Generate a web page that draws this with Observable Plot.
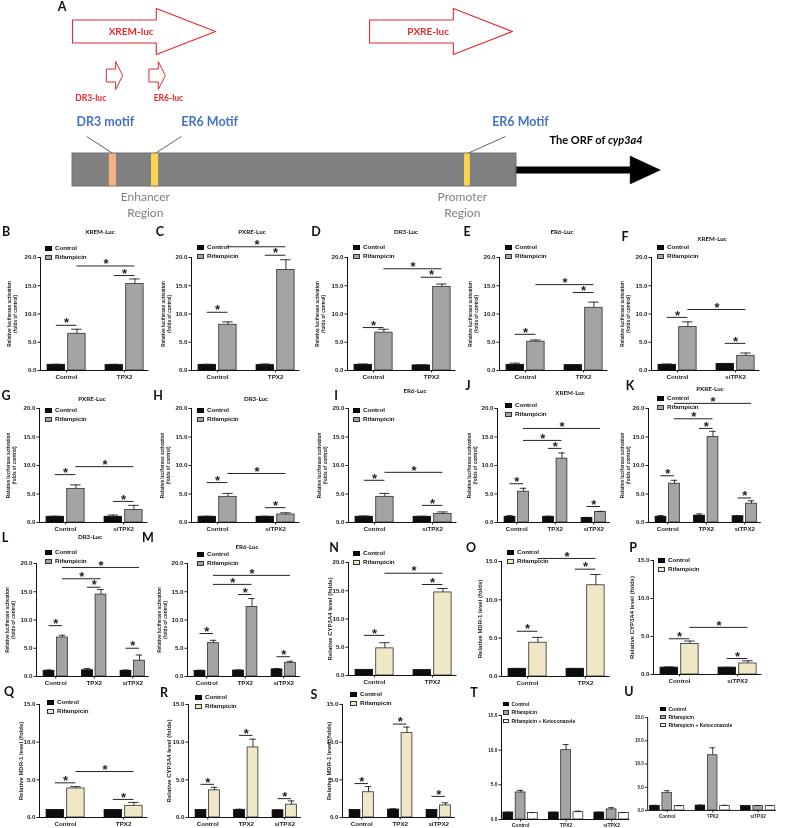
<!DOCTYPE html>
<html>
<head>
<meta charset="utf-8">
<script src="https://cdn.jsdelivr.net/npm/d3@7"></script>
<script src="https://cdn.jsdelivr.net/npm/@observablehq/plot@0.6"></script>
<style>
html,body{margin:0;padding:0;background:#fff;}
#fig{position:relative;width:789px;height:828px;overflow:hidden;background:#fff;}
.abs{position:absolute;white-space:nowrap;line-height:1;}
.letter{font-family:Lato,"Open Sans",sans-serif;font-weight:700;font-size:12.5px;color:#111;transform:translate(-50%,-50%);}
.ptitle{font-family:Lato,"Open Sans",sans-serif;font-weight:700;font-size:6.2px;color:#111;transform:translate(-50%,-50%);}
.legend{font-family:"Liberation Sans",Arial,sans-serif;font-weight:700;font-size:6.2px;color:#111;}
.legend .item{display:flex;align-items:center;}
.legend .sw{display:inline-block;width:7px;height:5px;margin-right:3px;box-sizing:border-box;border:0.8px solid #333;}
.legend.small{font-size:5px;}
.legend.small .sw{width:6px;height:4.5px;margin-right:2.5px;}
.panel{position:absolute;will-change:transform;}
.panel svg{overflow:visible;}
</style>
</head>
<body>
<div id="fig"></div>
<script>
// ---------------- categories ----------------
const seriesLuc = ["Control", "Rifampicin"];
const seriesKeto = ["Control", "Rifampicin", "Rifampicin + Ketoconazole"];
const groupsTPX2 = ["Control", "TPX2"];
const groupsSi = ["Control", "siTPX2"];
const groupsAll = ["Control", "TPX2", "siTPX2"];
const yTicks20 = [0, 5, 10, 15, 20];
const yTicks15 = [0, 5, 10, 15];
const titleLuc = "Relative luciferase activation\n(folds of control)";
const titleCYP = "Relative CYP3A4 level (folds)";
const titleMDR = "Relative MDR-1 level (folds)";

// ---------------- values: mean[group][series], err = top of error bar ----------------
const meanB=[[1.00,6.50],[0.95,15.30]], errB=[[1.10,7.30],[1.10,16.20]];
const meanC=[[1.00,8.10],[0.95,17.80]], errC=[[1.10,8.60],[1.15,19.60]];
const meanD=[[1.00,6.70],[0.90,14.80]], errD=[[1.15,7.30],[1.00,15.30]];
const meanE=[[1.00,5.10],[0.95,11.10]], errE=[[1.30,5.40],[1.00,12.10]];
const meanF=[[1.00,7.70],[1.15,2.60]], errF=[[1.15,8.60],[1.25,3.10]];
const meanG=[[1.00,5.90],[1.00,2.20]], errG=[[1.10,6.60],[1.30,3.00]];
const meanH=[[1.00,4.50],[1.00,1.40]], errH=[[1.10,5.10],[1.10,1.70]];
const meanI=[[1.00,4.50],[1.00,1.50]], errI=[[1.15,5.10],[1.10,1.85]];
const meanJ=[[1.00,5.40],[1.00,11.20],[0.80,1.85]], errJ=[[1.20,6.00],[1.10,12.20],[0.90,1.95]];
const meanK=[[1.00,6.80],[1.20,15.00],[1.10,3.30]], errK=[[1.20,7.40],[1.50,16.00],[1.15,3.80]];
const meanL=[[1.00,6.90],[1.10,14.50],[1.00,2.80]], errL=[[1.15,7.30],[1.40,15.40],[1.15,3.80]];
const meanM=[[1.00,5.90],[1.05,12.30],[1.25,2.40]], errM=[[1.10,6.40],[1.15,13.80],[1.40,2.70]];
const meanN=[[1.00,4.80],[0.95,14.70]], errN=[[1.05,5.80],[1.00,15.40]];
const meanO=[[1.00,4.40],[1.00,11.90]], errO=[[1.05,5.10],[1.05,13.30]];
const meanP=[[0.90,4.00],[0.90,1.45]], errP=[[1.00,4.40],[0.95,1.80]];
const meanQ=[[1.00,3.85],[1.00,1.55]], errQ=[[1.05,4.10],[1.05,2.00]];
const meanR=[[1.00,3.60],[1.00,9.30],[0.95,1.70]], errR=[[1.05,4.00],[1.10,10.40],[1.00,2.20]];
const meanS=[[1.00,3.35],[1.05,11.20],[1.00,1.60]], errS=[[1.05,4.10],[1.15,12.00],[1.05,1.95]];
const meanT=[[1.00,3.90,0.95],[1.00,10.00,1.05],[1.00,1.45,0.95]], errT=[[1.05,4.20,1.00],[1.05,10.80,1.20],[1.05,1.70,1.00]];
const meanU=[[1.00,3.80,0.95],[1.05,11.90,1.00],[0.95,1.00,1.00]], errU=[[1.10,4.25,1.00],[1.15,13.50,1.10],[1.00,1.05,1.05]];

// significance brackets: [group1, series1, group2, series2, level]
const sigB=[[0,0,0,1,8.0],[1,0,1,1,16.8],[0,1,1,1,18.5]];
const sigC=[[0,0,0,1,10.3],[1,0,1,1,20.4],[0,1,1,1,21.9]];
const sigD=[[0,0,0,1,7.6],[1,0,1,1,16.5],[0,1,1,1,18.0]];
const sigE=[[0,0,0,1,6.4],[1,0,1,1,13.8],[0,1,1,1,15.2]];
const sigF=[[0,0,0,1,9.4],[1,0,1,1,4.8],[0,1,1,1,10.8]];
const sigG=[[0,0,0,1,8.4],[1,0,1,1,3.7],[0,1,1,1,9.8]];
const sigH=[[0,0,0,1,7.0],[1,0,1,1,2.6],[0,1,1,1,8.6]];
const sigI=[[0,0,0,1,7.4],[1,0,1,1,3.0],[0,1,1,1,8.8]];
const sigJ=[[0,0,0,1,6.8],[1,0,1,1,13.0],[2,0,2,1,2.8],[0,1,1,1,14.4],[0,1,2,1,16.5]];
const sigK=[[0,0,0,1,8.2],[1,0,1,1,16.5],[2,0,2,1,4.3],[0,1,1,1,18.2],[0,1,2,1,20.9]];
const sigL=[[0,0,0,1,9.0],[1,0,1,1,15.8],[2,0,2,1,5.0],[0,1,1,1,17.3],[0,1,2,1,19.3]];
const sigM=[[0,0,0,1,7.6],[1,0,1,1,14.5],[2,0,2,1,3.5],[0,1,1,1,16.3],[0,1,2,1,17.9]];
const sigN=[[0,0,0,1,7.1],[1,0,1,1,16.1],[0,1,1,1,18.1]];
const sigO=[[0,0,0,1,5.9],[1,0,1,1,14.0],[0,1,1,1,15.4]];
const sigP=[[0,0,0,1,4.7],[1,0,1,1,2.1],[0,1,1,1,6.2]];
const sigQ=[[0,0,0,1,4.6],[1,0,1,1,2.4],[0,1,1,1,6.1]];
const sigR=[[0,0,0,1,4.4],[1,0,1,1,10.9],[2,0,2,1,2.5]];
const sigS=[[0,0,0,1,4.5],[1,0,1,1,12.4],[2,0,2,1,2.8]];
const sigT=[], sigU=[];

// ---------------- panel A schematic (positions in promoter units, 0..100 = enhancer/promoter region) ----------------
const geneRegion = [{start: 0, end: 100}];
const reporters = [{name: "XREM-luc", start: 0, end: 32.2}, {name: "PXRE-luc", start: 66.9, end: 99.1}];
const fragments = [{name: "DR3-luc", start: 7.7, end: 11.3, labelAt: 4.1}, {name: "ER6-luc", start: 17.3, end: 20.9, labelAt: 21.6}];
const motifs = [
  {name: "DR3 motif", start: 8.3, end: 9.9, labelAt: 7.4, leaderAt: 3.2, type: "DR3"},
  {name: "ER6 Motif", start: 17.8, end: 19.4, labelAt: 30.9, leaderAt: 24.5, type: "ER6"},
  {name: "ER6 Motif", start: 88.3, end: 89.6, labelAt: 100.9, leaderAt: 97.5, type: "ER6"}
];
const orf = [{start: 100, end: 132.4, labelAt: 120.6, text1: "The ORF of ", text2: "cyp3a4"}];
const regionLabels = [{name: "Enhancer\nRegion", at: 16.4}, {name: "Promoter\nRegion", at: 87.8}];

// ---------------- styles / layout ----------------
const FONT = '"Liberation Sans", Arial, sans-serif';
const fillsGray = ["#0e0e0e", "#a4a4a4"];
const fillsBeige = ["#0e0e0e", "#f0e7c6"];
const fillsKeto = ["#0e0e0e", "#a4a4a4", "#ffffff"];
const KINDS = {
  g2: {domain: [-0.45, 1.42], ppu: 58, barW: 0.30, off: [-0.178, 0.178]},
  g3: {domain: [-0.5, 2.43], ppu: 38.5, barW: 0.28, off: [-0.175, 0.175]},
  s3T: {domain: [-0.42, 2.4], ppu: 45.5, barW: 0.215, off: [-0.27, 0, 0.27]},
  s3U: {domain: [-0.43, 2.4], ppu: 48.5, barW: 0.21, off: [-0.27, 0, 0.27]}
};

const panels = [
  {id:"B", title:"XREM-Luc", groups:groupsTPX2, series:seriesLuc, mean:meanB, err:errB, sig:sigB, yMax:20, yTicks:yTicks20, yTitle:titleLuc, fills:fillsGray,
   L:{kind:"g2", ax:39.5, top:257, h:113, letter:[6,232], title:[100,232], legend:[45,248], tdx:-28}},
  {id:"C", title:"PXRE-Luc", groups:groupsTPX2, series:seriesLuc, mean:meanC, err:errC, sig:sigC, yMax:20, yTicks:yTicks20, yTitle:titleLuc, fills:fillsGray,
   L:{kind:"g2", ax:190.5, top:257, h:113, letter:[160,232], title:[252,232], legend:[197,247], tdx:-25}},
  {id:"D", title:"DR3-Luc", groups:groupsTPX2, series:seriesLuc, mean:meanD, err:errD, sig:sigD, yMax:20, yTicks:yTicks20, yTitle:titleLuc, fills:fillsGray,
   L:{kind:"g2", ax:346.5, top:257, h:113, letter:[316,232], title:[406,232], legend:[353,247], tdx:-27}},
  {id:"E", title:"ER6-Luc", groups:groupsTPX2, series:seriesLuc, mean:meanE, err:errE, sig:sigE, yMax:20, yTicks:yTicks20, yTitle:titleLuc, fills:fillsGray,
   L:{kind:"g2", ax:499, top:257, h:113, letter:[467,232], title:[562,232], legend:[505,247], tdx:-26}},
  {id:"F", title:"XREM-Luc", groups:groupsSi, series:seriesLuc, mean:meanF, err:errF, sig:sigF, yMax:20, yTicks:yTicks20, yTitle:titleLuc, fills:fillsGray,
   L:{kind:"g2", ax:650.5, top:257, h:113, letter:[625,237], title:[712,239], legend:[657,247], tdx:-26}},
  {id:"G", title:"PXRE-Luc", groups:groupsSi, series:seriesLuc, mean:meanG, err:errG, sig:sigG, yMax:20, yTicks:yTicks20, yTitle:titleLuc, fills:fillsGray,
   L:{kind:"g2", ax:39, top:408, h:114, letter:[6,396], title:[92,399], legend:[45,410], tdx:-28}},
  {id:"H", title:"DR3-Luc", groups:groupsSi, series:seriesLuc, mean:meanH, err:errH, sig:sigH, yMax:20, yTicks:yTicks20, yTitle:titleLuc, fills:fillsGray,
   L:{kind:"g2", ax:191, top:408, h:114, letter:[158,396], title:[256,399], legend:[197,410], tdx:-26}},
  {id:"I", title:"ER6-Luc", groups:groupsSi, series:seriesLuc, mean:meanI, err:errI, sig:sigI, yMax:20, yTicks:yTicks20, yTitle:titleLuc, fills:fillsGray,
   L:{kind:"g2", ax:347.5, top:408, h:114, letter:[336,396], title:[415,391], legend:[353,410], tdx:-26}},
  {id:"J", title:"XREM-Luc", groups:groupsAll, series:seriesLuc, mean:meanJ, err:errJ, sig:sigJ, yMax:20, yTicks:yTicks20, yTitle:titleLuc, fills:fillsGray,
   L:{kind:"g3", ax:497, top:408, h:114, letter:[468,386], title:[570,393], legend:[505,405], tdx:-25}},
  {id:"K", title:"PXRE-Luc", groups:groupsAll, series:seriesLuc, mean:meanK, err:errK, sig:sigK, yMax:20, yTicks:yTicks20, yTitle:titleLuc, fills:fillsGray,
   L:{kind:"g3", ax:648, top:408, h:114, letter:[630,386], title:[710,389], legend:[657,398], tdx:-23, lh:9}},
  {id:"L", title:"DR3-Luc", groups:groupsAll, series:seriesLuc, mean:meanL, err:errL, sig:sigL, yMax:20, yTicks:yTicks20, yTitle:titleLuc, fills:fillsGray,
   L:{kind:"g3", ax:36, top:563, h:113, letter:[5,538], title:[90,537], legend:[45,552], tdx:-26}},
  {id:"M", title:"ER6-Luc", groups:groupsAll, series:seriesLuc, mean:meanM, err:errM, sig:sigM, yMax:20, yTicks:yTicks20, yTitle:titleLuc, fills:fillsGray,
   L:{kind:"g3", ax:187, top:563, h:113, letter:[148,538], title:[247,547], legend:[197,554], tdx:-25}},
  {id:"N", title:null, groups:groupsTPX2, series:seriesLuc, mean:meanN, err:errN, sig:sigN, yMax:20, yTicks:yTicks20, yTitle:titleCYP, fills:fillsBeige,
   L:{kind:"g2", ax:348, top:562, h:113, letter:[334,548], legend:[353,553], tdx:-19}},
  {id:"O", title:null, groups:groupsTPX2, series:seriesLuc, mean:meanO, err:errO, sig:sigO, yMax:15, yTicks:yTicks15, yTitle:titleMDR, fills:fillsBeige,
   L:{kind:"g2", ax:500.5, top:561, h:115, letter:[471,548], legend:[507,552], tdx:-22}},
  {id:"P", title:null, groups:groupsSi, series:seriesLuc, mean:meanP, err:errP, sig:sigP, yMax:15, yTicks:yTicks15, yTitle:titleCYP, fills:fillsBeige,
   L:{kind:"g2", ax:653, top:560, h:114, letter:[633,548], legend:[658,560], tdx:-22}},
  {id:"Q", title:null, groups:groupsTPX2, series:seriesLuc, mean:meanQ, err:errQ, sig:sigQ, yMax:15, yTicks:yTicks15, yTitle:titleMDR, fills:fillsBeige,
   L:{kind:"g2", ax:39, top:704, h:113, letter:[9,692], legend:[47,702], tdx:-19}},
  {id:"R", title:null, groups:groupsAll, series:seriesLuc, mean:meanR, err:errR, sig:sigR, yMax:15, yTicks:yTicks15, yTitle:titleCYP, fills:fillsBeige,
   L:{kind:"g3", ax:188, top:704, h:113, letter:[164,693], legend:[195,697], tdx:-20}},
  {id:"S", title:null, groups:groupsAll, series:seriesLuc, mean:meanS, err:errS, sig:sigS, yMax:15, yTicks:yTicks15, yTitle:titleMDR, fills:fillsBeige,
   L:{kind:"g3", ax:342, top:704, h:113, letter:[314,695], legend:[350,694], tdx:-14}},
  {id:"T", title:null, groups:groupsAll, series:seriesKeto, mean:meanT, err:errT, sig:sigT, yMax:15, yTicks:yTicks15, yTitle:null, fills:fillsKeto,
   L:{kind:"s3T", ax:501, top:715, h:104, letter:[474,693], legend:[503,704], lh:8.5, small:true}},
  {id:"U", title:null, groups:groupsAll, series:seriesKeto, mean:meanU, err:errU, sig:sigU, yMax:20, yTicks:yTicks20, yTitle:null, fills:fillsKeto,
   L:{kind:"s3U", ax:650, top:719, h:99, letter:[629,692], legend:[660,709], lh:8, small:true}}
];

const fig = document.getElementById("fig");

function addText(cls, text, x, y) {
  const d = document.createElement("div");
  d.className = "abs " + cls;
  d.textContent = text;
  d.style.left = x + "px";
  d.style.top = y + "px";
  fig.appendChild(d);
  return d;
}

function addLegend(p) {
  const L = p.L;
  const lh = L.lh || 9.5;
  const div = document.createElement("div");
  div.className = "abs legend" + (L.small ? " small" : "");
  div.style.left = L.legend[0] + "px";
  div.style.top = (L.legend[1] - lh / 2) + "px";
  p.series.forEach((s, i) => {
    const item = document.createElement("div");
    item.className = "item";
    item.style.height = lh + "px";
    const sw = document.createElement("span");
    sw.className = "sw";
    sw.style.background = p.fills[i];
    sw.style.borderColor = i === 0 ? "#000" : "#333";
    item.appendChild(sw);
    item.appendChild(document.createTextNode(s));
    div.appendChild(item);
  });
  fig.appendChild(div);
}

function barPanel(p) {
  const L = p.L, K = KINDS[L.kind];
  const w = (K.domain[1] - K.domain[0]) * K.ppu;
  const mL = 46, mR = 14, mT = 30, mB = 16;
  const small = !!L.small;
  const rows = [];
  p.groups.forEach((g, gi) => p.series.forEach((s, si) => {
    const xc = gi + K.off[si];
    rows.push({group: g, series: s, gi, si, xc, x1: xc - K.barW / 2, x2: xc + K.barW / 2,
      value: p.mean[gi][si], err: p.err[gi][si]});
  }));
  const pos = (g, s) => g + K.off[s];
  const sig = p.sig.map(([g1, s1, g2, s2, y]) => ({x1: pos(g1, s1), x2: pos(g2, s2), xm: (pos(g1, s1) + pos(g2, s2)) / 2, y}));
  const capHalf = K.barW * 0.3;
  const marks = [
    Plot.rect(rows, {x1: "x1", x2: "x2", y1: 0, y2: "value", fill: d => p.fills[d.si], stroke: d => d.si === 0 ? "#000" : "#2e2e2e", strokeWidth: 0.8}),
    Plot.ruleX(rows, {x: "xc", y1: "value", y2: "err", stroke: "#1e1e1e", strokeWidth: 0.9}),
    Plot.ruleY(rows, {y: "err", x1: d => d.xc - capHalf, x2: d => d.xc + capHalf, stroke: "#1e1e1e", strokeWidth: 0.9}),
    Plot.ruleY([0], {stroke: "#111", strokeWidth: 1}),
    Plot.ruleX([K.domain[0]], {y1: 0, y2: p.yMax, stroke: "#111", strokeWidth: 1}),
    Plot.axisY({ticks: p.yTicks, tickFormat: d3.format(".1f"), tickSize: 2.5, tickPadding: 1.5, fontSize: small ? 4.8 : 6.2,
      fontWeight: "bold", color: "#1c1c1c", label: null}),
    Plot.axisX({ticks: p.groups.map((_, i) => i), tickFormat: i => p.groups[i], tickSize: 2.5, tickPadding: 1.5, fontSize: small ? 5 : 6.2,
      fontWeight: "bold", color: "#1c1c1c", label: null}),
    Plot.ruleY(sig, {y: "y", x1: "x1", x2: "x2", stroke: "#222", strokeWidth: 1}),
    Plot.text(sig, {x: "xm", y: "y", text: () => "*", fontSize: 13, fontWeight: "bold", lineAnchor: "bottom", dy: 2.2, fill: "#222"})
  ];
  if (p.yTitle) {
    const isLuc = p.yTitle.includes("\n");
    marks.push(Plot.text([p.yTitle], {frameAnchor: "left", rotate: -90, dx: L.tdx, text: d => d,
      fontSize: isLuc ? 4.8 : 6, fontWeight: "bold", lineHeight: 1.2, textAnchor: "middle", lineAnchor: "middle", fill: "#1c1c1c"}));
  }
  const svg = Plot.plot({
    width: mL + w + mR, height: mT + L.h + mB,
    marginLeft: mL, marginRight: mR, marginTop: mT, marginBottom: mB,
    x: {domain: K.domain, axis: null},
    y: {domain: [0, p.yMax], axis: null},
    style: {fontFamily: FONT, overflow: "visible", background: "transparent"},
    marks
  });
  const holder = document.createElement("div");
  holder.className = "panel";
  holder.style.left = (L.ax - mL) + "px";
  holder.style.top = (L.top - mT) + "px";
  holder.appendChild(svg);
  fig.appendChild(holder);
  addLegend(p);
  addText("letter", p.id, L.letter[0], L.letter[1]);
  if (p.title) addText("ptitle", p.title, L.title[0], L.title[1]);
}

// ---------------- panel A ----------------
function arrowPoly(items, cy, bodyHalf, headHalf, headFrac) {
  const pts = [];
  items.forEach(d => {
    const hs = d.start + headFrac * (d.end - d.start);
    [[d.start, cy - bodyHalf], [hs, cy - bodyHalf], [hs, cy - headHalf], [d.end, cy],
     [hs, cy + headHalf], [hs, cy + bodyHalf], [d.start, cy + bodyHalf]]
      .forEach(([x, y]) => pts.push({id: d.name || "orf", x, y}));
  });
  return pts;
}

function panelA() {
  const RED = "#e4282c";
  const bar = {y1: 153, y2: 186};
  const bigArrows = arrowPoly(reporters, 31, 11.5, 23, 0.586);
  const smallArrows = arrowPoly(fragments, 75, 6.5, 14, 0.56);
  const orfArrow = arrowPoly(orf, 169.5, 3.2, 14, 0.79);
  const svg = Plot.plot({
    width: 789, height: 222, margin: 0,
    x: {domain: [-16.22, 161.49], range: [0, 789], axis: null},
    y: {domain: [0, 222], range: [0, 222], axis: null},
    style: {fontFamily: "Lato, 'Open Sans', sans-serif", background: "transparent", overflow: "visible"},
    marks: [
      Plot.line(bigArrows, {x: "x", y: "y", z: "id", curve: "linear-closed", fill: "#fff", stroke: RED, strokeWidth: 1.1}),
      Plot.text(reporters, {x: d => d.start + 0.41 * (d.end - d.start), y: 31, text: "name", fill: RED, fontSize: 10, fontWeight: "bold"}),
      Plot.line(smallArrows, {x: "x", y: "y", z: "id", curve: "linear-closed", fill: "#fff", stroke: RED, strokeWidth: 1}),
      Plot.text(fragments, {x: "labelAt", y: 98, text: "name", fill: RED, fontSize: 8.5, fontWeight: "bold"}),
      Plot.text(motifs, {x: "labelAt", y: 121, text: "name", fill: "#4472c4", fontSize: 12.5, fontWeight: "bold"}),
      Plot.link(motifs, {x1: "leaderAt", y1: 136, x2: d => (d.start + d.end) / 2, y2: bar.y1, stroke: "#3a3a3a", strokeWidth: 0.8}),
      Plot.rect(geneRegion, {x1: "start", x2: "end", y1: bar.y1, y2: bar.y2, fill: "#808080", stroke: "#6e6e6e", strokeWidth: 1}),
      Plot.rect(motifs, {x1: "start", x2: "end", y1: bar.y1 + 0.5, y2: bar.y2 - 0.5, fill: d => d.type === "DR3" ? "#f4b183" : "#ffd54f"}),
      Plot.line(orfArrow, {x: "x", y: "y", z: "id", curve: "linear-closed", fill: "#000", stroke: "#000", strokeWidth: 0.5}),
      Plot.text(orf, {x: "labelAt", y: 140, text: "text1", textAnchor: "end", fill: "#000", fontSize: 11, fontWeight: "bold"}),
      Plot.text(orf, {x: "labelAt", y: 140, text: "text2", textAnchor: "start", fill: "#000", fontSize: 11, fontWeight: "bold", fontStyle: "italic"}),
      Plot.text(regionLabels, {x: "at", y: 203, text: "name", fill: "#808080", fontSize: 12, lineHeight: 1.33, lineAnchor: "middle"})
    ]
  });
  const holder = document.createElement("div");
  holder.className = "panel";
  holder.style.left = "0px";
  holder.style.top = "0px";
  holder.appendChild(svg);
  fig.appendChild(holder);
  addText("letter", "A", 62, 7);
}

panelA();
panels.forEach(barPanel);
</script>
</body>
</html>
